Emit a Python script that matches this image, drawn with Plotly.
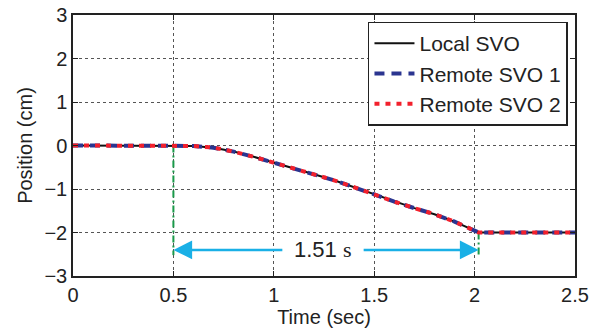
import plotly.graph_objects as go

time_s = [0.0, 0.5, 0.6, 0.7, 0.8, 0.9, 1.0, 1.1, 1.2, 1.3, 1.4, 1.5, 1.6, 1.7, 1.8, 1.9, 2.02, 2.5]
local_svo = [0.0, 0.0, -0.01, -0.05, -0.14, -0.26, -0.39, -0.52, -0.66, -0.8, -0.96, -1.13, -1.29, -1.44, -1.58, -1.75, -2.0, -2.0]
remote_svo1 = [0.0, 0.0, -0.01, -0.05, -0.14, -0.26, -0.39, -0.52, -0.66, -0.8, -0.96, -1.13, -1.29, -1.44, -1.58, -1.75, -2.0, -2.0]
remote_svo2 = [0.0, 0.0, -0.01, -0.05, -0.14, -0.26, -0.39, -0.52, -0.66, -0.8, -0.96, -1.13, -1.29, -1.44, -1.58, -1.75, -2.0, -2.0]

start_t = 0.5
end_t = 2.02
arrow_y = -2.4
marker_bottom = -2.52
gap_left = 1.05
gap_right = 1.44
label_x = 1.245
label = "1.51 <span style='font-family:\"Liberation Serif\"'>s</span>"

x_ticks = [0, 0.5, 1, 1.5, 2, 2.5]
x_ticklabels = ["0", "0.5", "1", "1.5", "2", "2.5"]
y_ticks = [-3, -2, -1, 0, 1, 2, 3]

FONT = "Liberation Sans, Arial"
TXT = "#222222"

fig = go.Figure()
fig.add_trace(go.Scatter(x=[start_t, start_t], y=[0, marker_bottom], mode="lines",
                         line=dict(color="#1a9a4a", width=2, dash="7px,3px,2px,3px"), showlegend=False))
fig.add_trace(go.Scatter(x=[end_t, end_t], y=[-2, marker_bottom], mode="lines",
                         line=dict(color="#1a9a4a", width=2, dash="7px,3px,2px,3px"), showlegend=False))

fig.add_trace(go.Scatter(x=time_s, y=local_svo, mode="lines", name="Local SVO",
                         line=dict(color="#111111", width=2)))
fig.add_trace(go.Scatter(x=time_s, y=remote_svo1, mode="lines", name="Remote SVO 1",
                         line=dict(color="#2b3590", width=4, dash="10px,7px")))
fig.add_trace(go.Scatter(x=time_s, y=remote_svo2, mode="lines", name="Remote SVO 2",
                         line=dict(color="#f2202c", width=4, dash="5px,6px")))

arrow_color = "#1ab0e6"
for tip, tail in [(start_t, gap_left), (end_t, gap_right)]:
    fig.add_annotation(x=tip, y=arrow_y, ax=tail, ay=arrow_y, xref="x", yref="y",
                       axref="x", ayref="y", text="", showarrow=True,
                       arrowhead=2, arrowsize=1.5, arrowwidth=2.5, arrowcolor=arrow_color)
fig.add_annotation(x=label_x, y=arrow_y, xref="x", yref="y", text=label, showarrow=False,
                   font=dict(family=FONT, size=22, color=TXT))

axis_common = dict(showline=True, linecolor="#222222", linewidth=1.5, mirror="allticks",
                   ticks="inside", ticklen=5, tickcolor="#222222", showgrid=True,
                   gridcolor="#555555", griddash="dot", gridwidth=1, zeroline=False,
                   automargin=False,
                   tickfont=dict(family=FONT, size=20, color=TXT))

fig.update_xaxes(range=[0, 2.5], tickvals=x_ticks, ticktext=x_ticklabels,
                 title=dict(text="Time (sec)", standoff=0,
                            font=dict(family=FONT, size=20, color=TXT)),
                 **axis_common)
fig.update_yaxes(range=[-3, 3], tickvals=y_ticks,
                 title=dict(text="Position (cm)", standoff=6,
                            font=dict(family=FONT, size=20, color=TXT)),
                 **axis_common)

fig.update_layout(
    width=592, height=333,
    margin=dict(l=73, r=17, t=15, b=57),
    plot_bgcolor="white", paper_bgcolor="white",
    legend=dict(x=0.986, y=0.975, xanchor="right", yanchor="top",
                bgcolor="white", bordercolor="#222222", borderwidth=1.5,
                font=dict(family=FONT, size=21, color=TXT),
                tracegroupgap=0, itemwidth=40),
)

fig.write_html("out.html")
